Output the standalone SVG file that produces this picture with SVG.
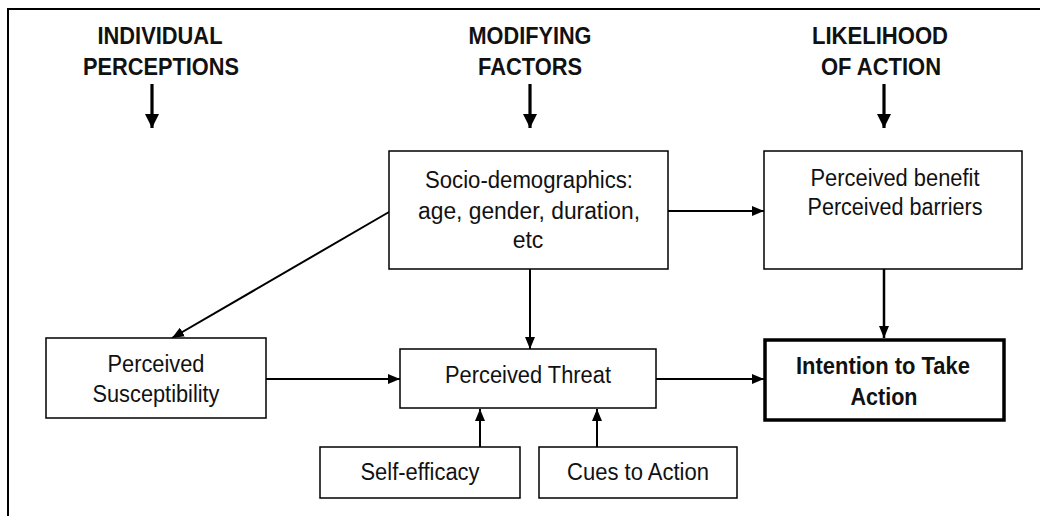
<svg xmlns="http://www.w3.org/2000/svg" width="1040" height="516" viewBox="0 0 1040 516">
<defs>
<marker id="ah" viewBox="0 0 12 10" refX="12" refY="5" markerWidth="12" markerHeight="10" markerUnits="userSpaceOnUse" orient="auto">
<path d="M0,0 L12,5 L0,10 Z" fill="#000"/>
</marker>
<marker id="ahb" viewBox="0 0 14 14" refX="14" refY="7" markerWidth="14" markerHeight="14" markerUnits="userSpaceOnUse" orient="auto">
<path d="M0,0 L14,7 L0,14 Z" fill="#000"/>
</marker>
</defs>
<style>
.box{fill:#fff;stroke:#000;stroke-width:1.5}
.bold{fill:#fff;stroke:#000;stroke-width:3.5}
.t{font-family:"Liberation Sans",Arial,sans-serif;font-size:23px;fill:#111;text-anchor:middle}
.h{font-family:"Liberation Sans",Arial,sans-serif;font-size:23px;font-weight:bold;fill:#111;text-anchor:middle}
.c{stroke:#000;stroke-width:2;fill:none;marker-end:url(#ah)}
.hc{stroke:#000;stroke-width:3.2;fill:none;marker-end:url(#ahb)}
</style>
<rect width="1040" height="516" fill="#fff"/>
<path d="M8,516 L8,9 L1040,9" fill="none" stroke="#000" stroke-width="2"/>
<g id="headers">
<text class="h" x="160" y="44" textLength="125" lengthAdjust="spacingAndGlyphs">INDIVIDUAL</text>
<text class="h" x="161" y="75" textLength="156" lengthAdjust="spacingAndGlyphs">PERCEPTIONS</text>
<text class="h" x="530" y="44" textLength="123" lengthAdjust="spacingAndGlyphs">MODIFYING</text>
<text class="h" x="530" y="75" textLength="104" lengthAdjust="spacingAndGlyphs">FACTORS</text>
<text class="h" x="880" y="44" textLength="136" lengthAdjust="spacingAndGlyphs">LIKELIHOOD</text>
<text class="h" x="881" y="75" textLength="120" lengthAdjust="spacingAndGlyphs">OF ACTION</text>
</g>
<g id="connectors">
<line class="hc" x1="152" y1="84" x2="152" y2="128"/>
<line class="hc" x1="530" y1="84" x2="530" y2="128"/>
<line class="hc" x1="884" y1="84" x2="884" y2="128"/>
<line class="c" x1="389" y1="212" x2="172" y2="338"/>
<line class="c" x1="668" y1="211" x2="764" y2="211"/>
<line class="c" x1="530" y1="269" x2="530" y2="349"/>
<line class="c" x1="884" y1="269" x2="884" y2="338" style="stroke-width:2.5"/>
<line class="c" x1="266" y1="379" x2="400" y2="379"/>
<line class="c" x1="656" y1="379" x2="764" y2="379"/>
<line class="c" x1="480" y1="447" x2="480" y2="409"/>
<line class="c" x1="597" y1="447" x2="597" y2="409"/>
</g>
<g id="socio">
<rect class="box" x="389" y="151" width="279" height="118"/>
<text class="t" x="529" y="188" textLength="208" lengthAdjust="spacingAndGlyphs">Socio-demographics:</text>
<text class="t" x="529" y="219" textLength="222" lengthAdjust="spacingAndGlyphs">age, gender, duration,</text>
<text class="t" x="528" y="248">etc</text>
</g>
<g id="benefit">
<rect class="box" x="764" y="151" width="258" height="118"/>
<text class="t" x="895" y="186" textLength="169" lengthAdjust="spacingAndGlyphs">Perceived benefit</text>
<text class="t" x="895" y="215" textLength="175" lengthAdjust="spacingAndGlyphs">Perceived barriers</text>
</g>
<g id="susceptibility">
<rect class="box" x="46" y="338" width="220" height="80"/>
<text class="t" x="156" y="372" textLength="97" lengthAdjust="spacingAndGlyphs">Perceived</text>
<text class="t" x="156" y="402" textLength="127" lengthAdjust="spacingAndGlyphs">Susceptibility</text>
</g>
<g id="threat">
<rect class="box" x="400" y="349" width="256" height="59"/>
<text class="t" x="528" y="383" textLength="166" lengthAdjust="spacingAndGlyphs">Perceived Threat</text>
</g>
<g id="intention">
<rect class="bold" x="765" y="340" width="239" height="80"/>
<text class="t" x="883" y="374" textLength="174" lengthAdjust="spacingAndGlyphs" style="font-weight:bold">Intention to Take</text>
<text class="t" x="884" y="405" textLength="67" lengthAdjust="spacingAndGlyphs" style="font-weight:bold">Action</text>
</g>
<g id="selfefficacy">
<rect class="box" x="320" y="447" width="200" height="51"/>
<text class="t" x="420" y="480" textLength="119" lengthAdjust="spacingAndGlyphs">Self-efficacy</text>
</g>
<g id="cues">
<rect class="box" x="539" y="447" width="198" height="51"/>
<text class="t" x="638" y="480" textLength="142" lengthAdjust="spacingAndGlyphs">Cues to Action</text>
</g>
</svg>
